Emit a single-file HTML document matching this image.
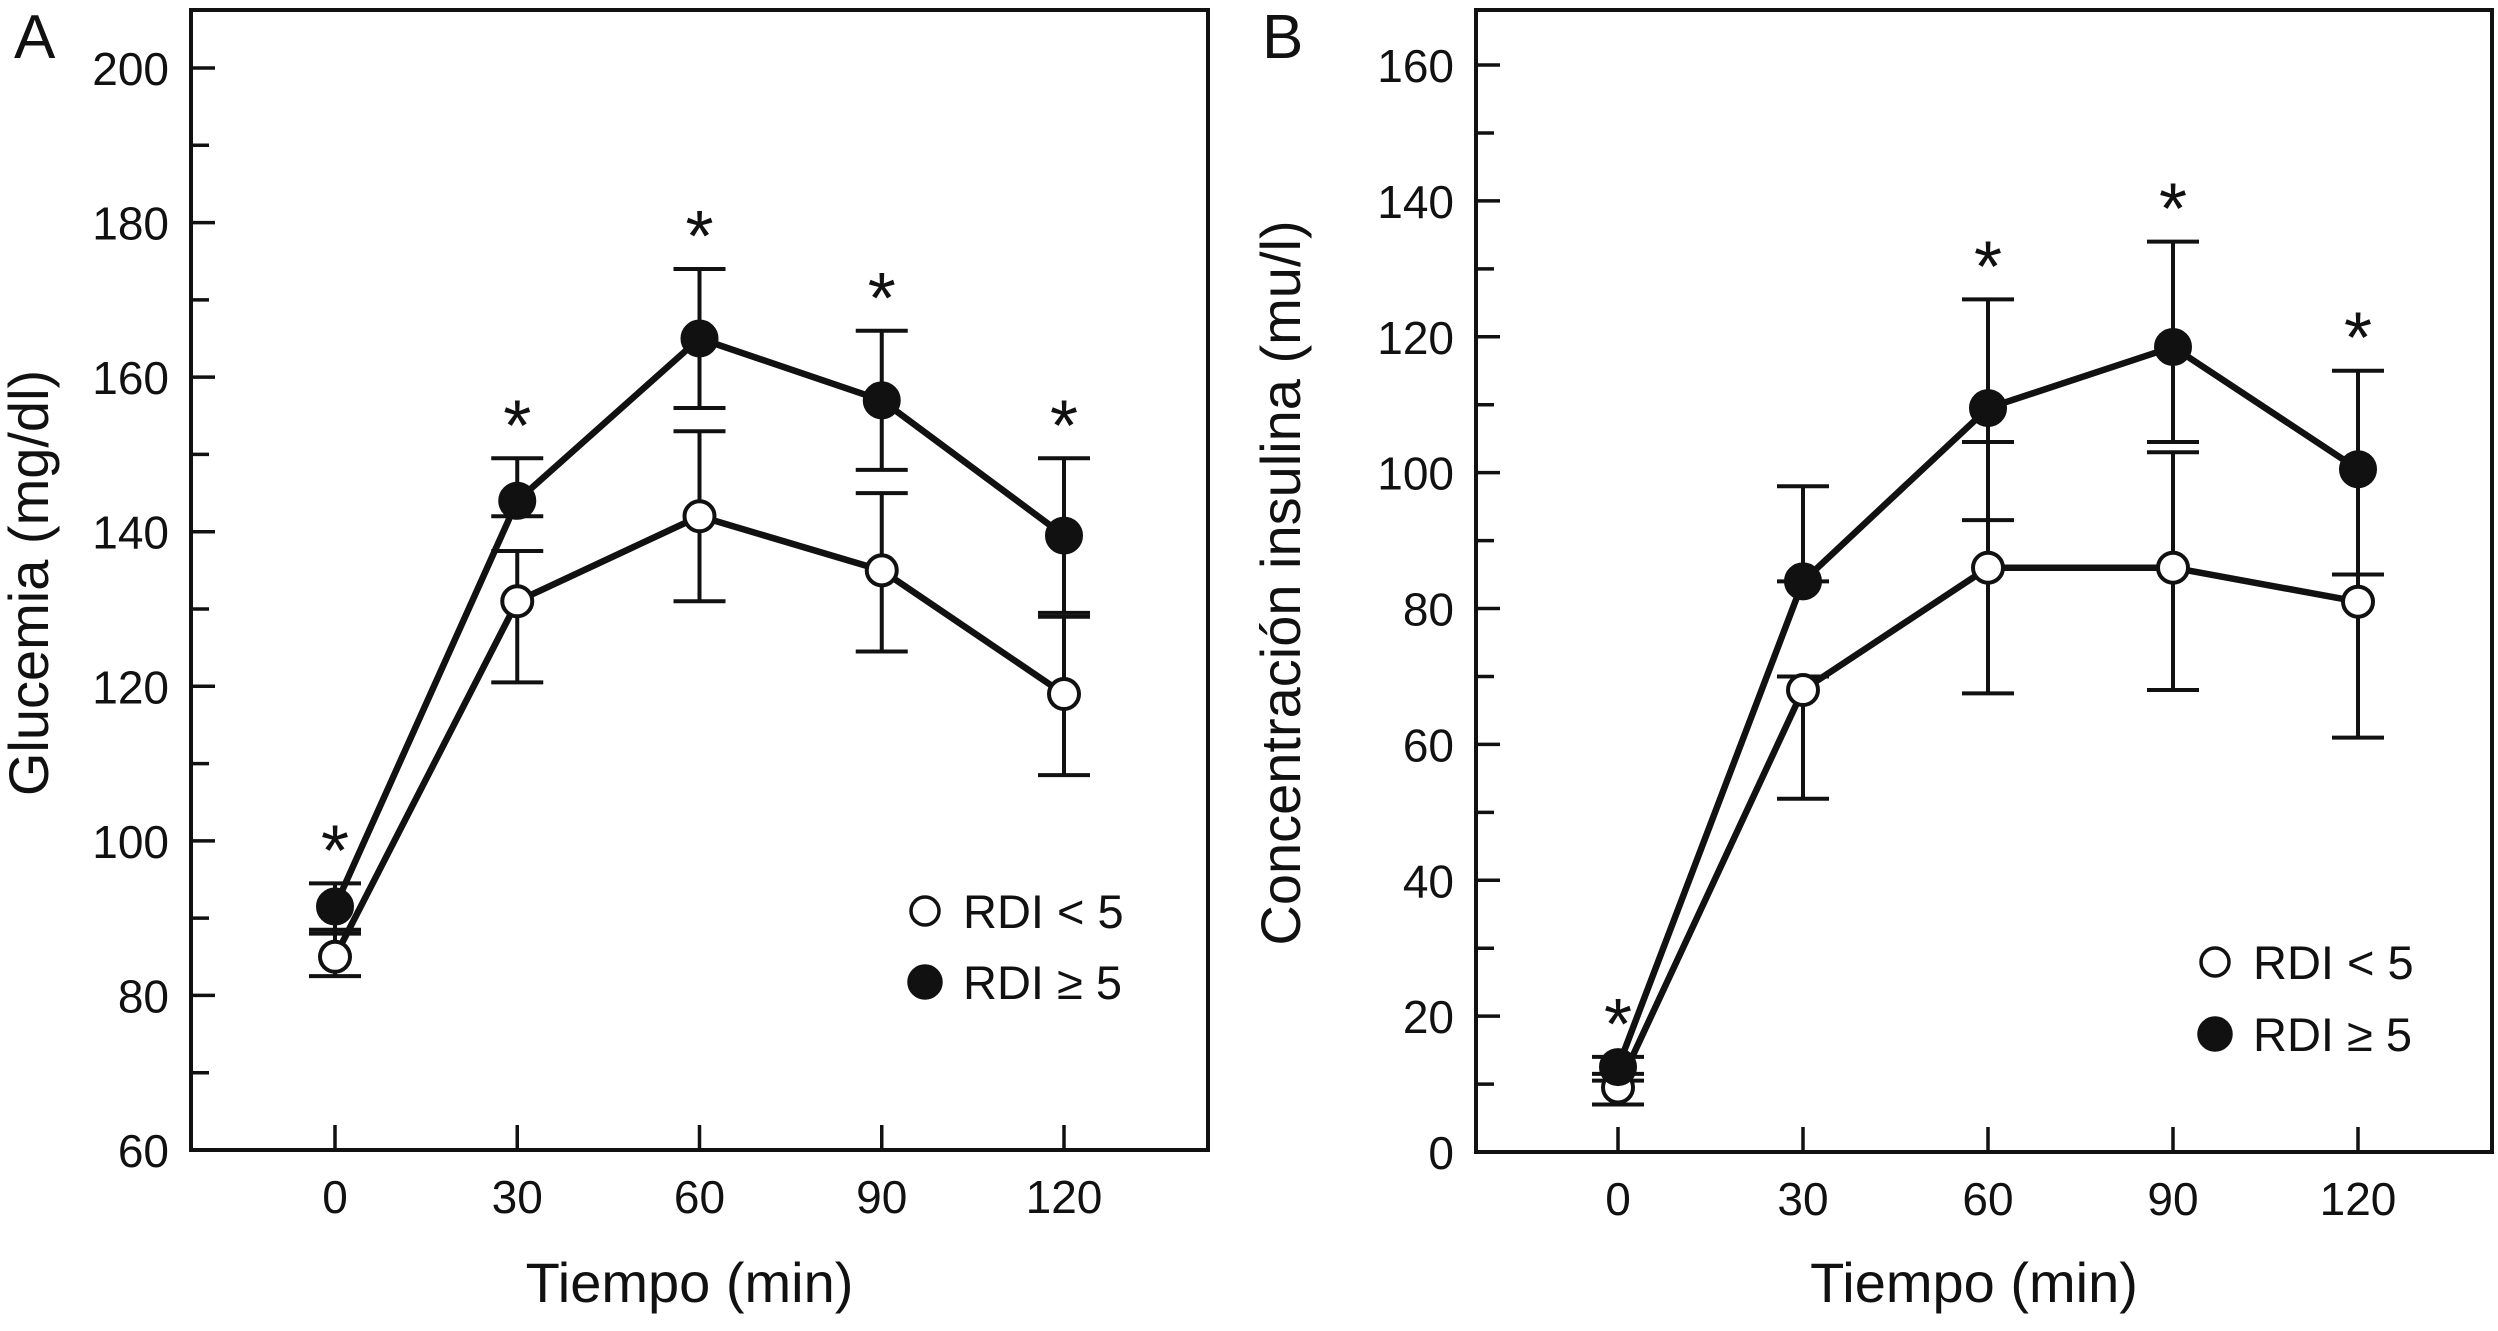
<!DOCTYPE html>
<html><head><meta charset="utf-8"><style>
html,body{margin:0;padding:0;background:#fff;}
svg{display:block;font-family:"Liberation Sans",Arial,sans-serif;}
</style></head><body>
<svg id="fig" width="2498" height="1331" viewBox="0 0 2498 1331"></svg>
<script>
// ---- Panel A data (glucemia) ----
const timesA = [0, 30, 60, 90, 120];
const openA = [85, 131, 142, 135, 119];
const openALo = [82.5, 120.5, 131, 124.5, 108.5];
const openAHi = [88.5, 137.5, 153, 145, 129];
const fillA = [91.5, 144, 165, 157, 139.5];
const fillALo = [88, 142, 156, 148, 129.5];
const fillAHi = [94.5, 149.5, 174, 166, 149.5];
const starsA = [true, true, true, true, true];
const yTicksA = [60, 80, 100, 120, 140, 160, 180, 200];
// ---- Panel B data (insulina) ----
const timesB = [0, 30, 60, 90, 120];
const openB = [9.5, 68, 86, 86, 81];
const openBLo = [7, 52, 67.5, 68, 61];
const openBHi = [11.5, 70, 104.5, 103, 85];
const fillB = [12.5, 84, 109.5, 118.5, 100.5];
const fillBLo = [10.5, 84, 93, 104.5, 85];
const fillBHi = [14, 98, 125.5, 134, 115];
const starsB = [true, false, true, true, true];
const yTicksB = [0, 20, 40, 60, 80, 100, 120, 140, 160];
const xTicks = [0, 30, 60, 90, 120];

const NS = "http://www.w3.org/2000/svg";
const svg = document.getElementById('fig');
function mk(tag, attrs, parent, text) {
  const e = document.createElementNS(NS, tag);
  for (const k in attrs) e.setAttribute(k, attrs[k]);
  if (text !== undefined) e.textContent = text;
  (parent || svg).appendChild(e);
  return e;
}

function panel(cfg) {
  const g = mk('g', {});
  
  
  const X = t => cfg.x0 + (t - 0) * (cfg.x120 - cfg.x0) / 120;
  const Y = v => cfg.yBot - (v - cfg.yMin) * (cfg.yBot - cfg.yTop) / (cfg.yMax - cfg.yMin);
  const fr = mk('rect', {x: cfg.L, y: cfg.T, width: cfg.R - cfg.L, height: cfg.B - cfg.T, fill: 'none', stroke: '#111', 'stroke-width': 4}, g);
  
  
  const step = cfg.yTicks[1] - cfg.yTicks[0];
  for (let v = cfg.yMin; v <= cfg.yMax + 0.01; v += step / 2) {
    const major = Math.abs(((v - cfg.yMin) / step) - Math.round((v - cfg.yMin) / step)) < 0.01;
    const tk = mk('line', {x1: cfg.L, x2: cfg.L + (major ? 24 : 18), y1: Y(v), y2: Y(v), stroke: '#111', 'stroke-width': 3.5}, g);
    
    
  }
  cfg.yTicks.forEach(v => {
    const t = mk('text', {x: cfg.L - 22, y: Y(v) + 17, 'text-anchor': 'end', 'font-size': 46, fill: '#111'}, g, String(v));
    
    
  });
  xTicks.forEach(v => {
    const tk = mk('line', {x1: X(v), x2: X(v), y1: cfg.B, y2: cfg.B - 25, stroke: '#111', 'stroke-width': 3.5}, g);
    
    
    const t = mk('text', {x: X(v), y: cfg.B + 63, 'text-anchor': 'middle', 'font-size': 46, fill: '#111'}, g, String(v));
    
    
  });
  const xt = mk('text', {x: (cfg.L + cfg.R) / 2 - 10, y: 1302, 'text-anchor': 'middle', 'font-size': 56, fill: '#111'}, g, 'Tiempo (min)');
  
  
  const yt = mk('text', {x: 0, y: 0, 'text-anchor': 'middle', 'font-size': 56, fill: '#111', transform: `translate(${cfg.ytX},${cfg.ytY}) rotate(-90)`}, g, cfg.ytitle);
  
  
  const pl = mk('text', {x: cfg.labX, y: 58, 'font-size': 62, fill: '#111'}, g, cfg.label);
  
  
  function errs(lo, hi, nm) {
    cfg.times.forEach((t, i) => {
      const eg = mk('g', {stroke: '#111', 'stroke-width': 4}, g);
      
      
      mk('line', {x1: X(t), x2: X(t), y1: Y(lo[i]), y2: Y(hi[i])}, eg);
      mk('line', {x1: X(t) - 26, x2: X(t) + 26, y1: Y(lo[i]), y2: Y(lo[i])}, eg);
      mk('line', {x1: X(t) - 26, x2: X(t) + 26, y1: Y(hi[i]), y2: Y(hi[i])}, eg);
    });
  }
  errs(cfg.oLo, cfg.oHi, 'error-bar-rdi-lt5');
  errs(cfg.fLo, cfg.fHi, 'error-bar-rdi-ge5');
  function series(vals, fill, nm) {
    const pts = cfg.times.map((t, i) => X(t) + ',' + Y(vals[i])).join(' ');
    const ln = mk('polyline', {points: pts, fill: 'none', stroke: '#111', 'stroke-width': 6.5, 'stroke-linejoin': 'round'}, g);
    
    
    cfg.times.forEach((t, i) => {
      const c = mk('circle', {cx: X(t), cy: Y(vals[i]), r: fill === '#fff' ? 15 : 17, fill: fill, stroke: '#111', 'stroke-width': 4}, g);
      
      
    });
  }
  series(cfg.open, '#fff', 'rdi-lt5');
  series(cfg.fill, '#111', 'rdi-ge5');
  cfg.times.forEach((t, i) => {
    if (!cfg.stars[i]) return;
    const s = mk('text', {x: X(t), y: Y(cfg.fHi[i]) - 8, 'text-anchor': 'middle', 'font-size': 72, fill: '#111'}, g, '*');
    
    
  });
  const lg = mk('g', {}, g);
  
  
  [['#fff', 'RDI < 5', cfg.legY1, 'legend-entry-rdi-lt5'], ['#111', 'RDI \u2265 5', cfg.legY2, 'legend-entry-rdi-ge5']].forEach(e => {
    const eg = mk('g', {}, lg);
    
    
    mk('circle', {cx: cfg.legX, cy: e[2], r: e[0] === '#fff' ? 14 : 16, fill: e[0], stroke: '#111', 'stroke-width': 3.5}, eg);
    mk('text', {x: cfg.legX + 38, y: e[2] + 17, 'font-size': 47, fill: '#111'}, eg, e[1]);
  });
}

panel({name: 'panel-a-glucemia', L: 191, R: 1208, T: 10, B: 1150, x0: 335, x120: 1064,
  yMin: 60, yMax: 200, yBot: 1150, yTop: 68, yTicks: yTicksA, times: timesA,
  open: openA, oLo: openALo, oHi: openAHi, fill: fillA, fLo: fillALo, fHi: fillAHi, stars: starsA,
  ytitle: 'Glucemia (mg/dl)', ytX: 48, ytY: 583, label: 'A', labX: 14,
  legX: 925, legY1: 911, legY2: 982});
panel({name: 'panel-b-insulina', L: 1476, R: 2492, T: 10, B: 1152, x0: 1618, x120: 2358,
  yMin: 0, yMax: 160, yBot: 1152, yTop: 65, yTicks: yTicksB, times: timesB,
  open: openB, oLo: openBLo, oHi: openBHi, fill: fillB, fLo: fillBLo, fHi: fillBHi, stars: starsB,
  ytitle: 'Concentración insulina (mu/l)', ytX: 1300, ytY: 583, label: 'B', labX: 1262,
  legX: 2215, legY1: 962, legY2: 1034});
</script>
</body></html>
